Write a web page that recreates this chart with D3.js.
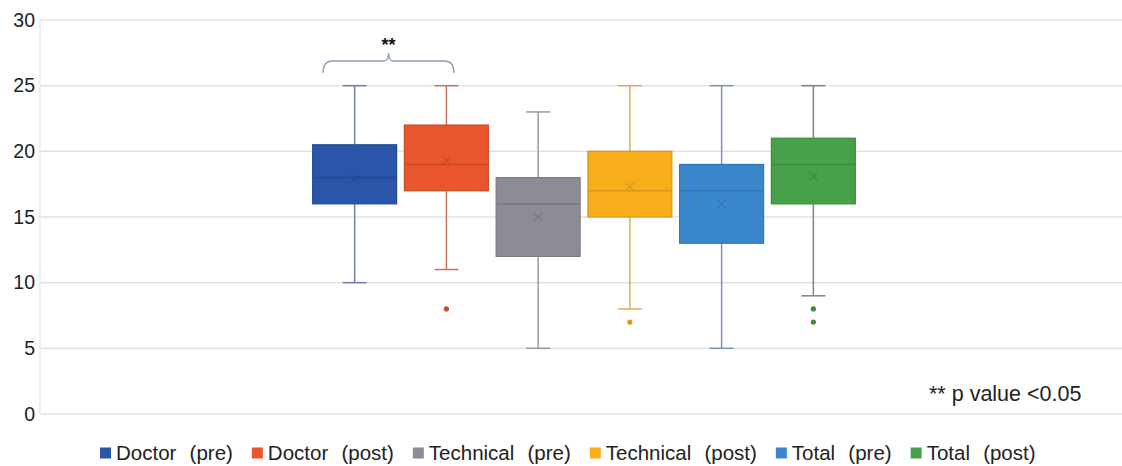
<!DOCTYPE html>
<html>
<head>
<meta charset="utf-8">
<script src="https://cdn.jsdelivr.net/npm/d3@7"></script>
<style>
html,body{margin:0;padding:0;background:#fff;}
svg{display:block;font-family:"Liberation Sans",Arial,sans-serif;}
</style>
</head>
<body>
<svg id="chart" width="1122" height="466"></svg>
<script>
const series = ["Doctor (pre)", "Doctor (post)", "Technical (pre)", "Technical (post)", "Total (pre)", "Total (post)"];
const whiskerLow  = [10, 11, 5, 8, 5, 9];
const q1          = [16, 17, 12, 15, 13, 16];
const median      = [18, 19, 16, 17, 17, 19];
const q3          = [20.5, 22, 18, 20, 19, 21];
const whiskerHigh = [25, 25, 23, 25, 25, 25];
const means       = [17.9, 19.3, 15.0, 17.3, 16.0, 18.1];
const outliers    = [[], [8], [], [7], [], [8, 7]];
const yTicks = [0, 5, 10, 15, 20, 25, 30];
const fills    = ["#2A56A9", "#E9552C", "#8F8B96", "#F8AD1B", "#3A87CC", "#47A148"];
const strokes  = ["#244A94", "#C94A28", "#7D7984", "#D99A1C", "#3276B3", "#3D8C3E"];
const whiskerC = ["#6F7FA9", "#C87462", "#9C99A1", "#E0AC55", "#7D93B4", "#738F73"];

(function () {
const svg = d3.select("#chart");
const pLeft = 40, pRight = 1122, pTop = 20, pBottom = 414;

const y = d3.scaleLinear().domain([0, 30]).range([pBottom, pTop]);
const x = d3.scaleBand().domain(series).range([309, 859]).paddingInner(0.085).paddingOuter(0.04);
const bw = x.bandwidth();

// gridlines
svg.append("g").selectAll("line").data(yTicks).join("line")
  .attr("x1", pLeft).attr("x2", pRight)
  .attr("y1", d => y(d)).attr("y2", d => y(d))
  .attr("stroke", "#E2E2E2").attr("stroke-width", 1.5);
svg.append("line").attr("x1", pLeft).attr("x2", pLeft).attr("y1", pTop).attr("y2", pBottom)
  .attr("stroke", "#EAEAEA").attr("stroke-width", 1.5);

// y axis labels
const yAxis = d3.axisLeft(y).tickValues(yTicks).tickSize(0).tickPadding(5);
const ga = svg.append("g").attr("transform", `translate(${pLeft},0)`).call(yAxis);
ga.select(".domain").remove();
ga.selectAll("text").attr("font-size", 19.5).attr("fill", "#222").attr("font-family", "Liberation Sans, Arial, sans-serif");

// boxes
const g = svg.append("g");
series.forEach((s, i) => {
  const cx = x(s) + bw / 2;
  const cap = 24;
  const wc = whiskerC[i];
  g.append("line").attr("x1", cx).attr("x2", cx).attr("y1", y(whiskerHigh[i])).attr("y2", y(q3[i]))
    .attr("stroke", wc).attr("stroke-width", 1.5);
  g.append("line").attr("x1", cx).attr("x2", cx).attr("y1", y(q1[i])).attr("y2", y(whiskerLow[i]))
    .attr("stroke", wc).attr("stroke-width", 1.5);
  [whiskerHigh[i], whiskerLow[i]].forEach(v => {
    g.append("line").attr("x1", cx - cap / 2).attr("x2", cx + cap / 2).attr("y1", y(v)).attr("y2", y(v))
      .attr("stroke", wc).attr("stroke-width", 1.5);
  });
  g.append("rect").attr("x", x(s)).attr("width", bw)
    .attr("y", y(q3[i])).attr("height", y(q1[i]) - y(q3[i]))
    .attr("fill", fills[i]).attr("stroke", strokes[i]).attr("stroke-width", 1.2);
  g.append("line").attr("x1", x(s)).attr("x2", x(s) + bw).attr("y1", y(median[i])).attr("y2", y(median[i]))
    .attr("stroke", strokes[i]).attr("stroke-width", 1.6);
  const my = y(means[i]), r = 4;
  g.append("path").attr("d", `M${cx - r},${my - r}L${cx + r},${my + r}M${cx - r},${my + r}L${cx + r},${my - r}`)
    .attr("stroke", strokes[i]).attr("stroke-width", 1.2).attr("fill", "none");
  outliers[i].forEach(v => {
    g.append("circle").attr("cx", cx).attr("cy", y(v)).attr("r", 2.6).attr("fill", strokes[i]);
  });
});

// significance bracket
const bx1 = 323, bx2 = 454, bmid = (bx1 + bx2) / 2;
const by0 = 73, by1 = 61, bpk = 53;
svg.append("path")
  .attr("d", `M${bx1},${by0} Q${bx1},${by1} ${bx1 + 10},${by1} L${bmid - 5},${by1} Q${bmid},${by1} ${bmid},${bpk} Q${bmid},${by1} ${bmid + 5},${by1} L${bx2 - 10},${by1} Q${bx2},${by1} ${bx2},${by0}`)
  .attr("fill", "none").attr("stroke", "#8C9AC0").attr("stroke-width", 1.3);
svg.append("text").attr("x", bmid).attr("y", 51).attr("text-anchor", "middle")
  .attr("font-size", 18).attr("font-weight", "bold").attr("fill", "#111").text("**");

// p value note
svg.append("text").attr("x", 929).attr("y", 401).attr("font-size", 21.5).attr("fill", "#222")
  .text("** p value <0.05");

// legend
const lg = svg.append("g").attr("transform", "translate(0,453)");
let lx = 100;
series.forEach((s, i) => {
  lg.append("rect").attr("x", lx).attr("y", -5.5).attr("width", 11).attr("height", 11).attr("fill", fills[i]);
  const t = lg.append("text").attr("x", lx + 16).attr("y", 7).attr("font-size", 20.5).attr("fill", "#222")
    .attr("word-spacing", 7.5).text(s);
  const w = t.node().getComputedTextLength();
  lx += 16 + w + 19;
});
})();
</script>
</body>
</html>
